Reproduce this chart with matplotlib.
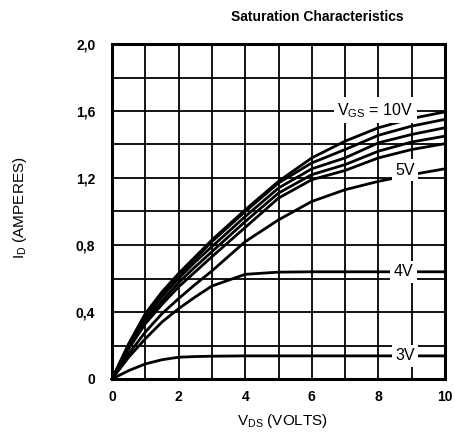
import matplotlib
matplotlib.use("Agg")
import matplotlib.pyplot as plt
from matplotlib.ticker import MultipleLocator, FixedLocator

plt.rcParams['font.family'] = ['Liberation Sans', 'DejaVu Sans']
plt.rcParams['mathtext.fontset'] = 'custom'
plt.rcParams['mathtext.rm'] = 'Liberation Sans'
plt.rcParams['mathtext.it'] = 'Liberation Sans'
plt.rcParams['mathtext.bf'] = 'Liberation Sans:bold'

# ---- data ----
vds = [0, 0.5, 1, 1.5, 2, 2.5, 3, 4, 5, 6, 7, 8, 9, 10]
id_10v = [0, 0.21, 0.39, 0.52, 0.63, 0.73, 0.83, 1.01, 1.18, 1.32, 1.42, 1.50, 1.555, 1.595]
id_9v  = [0, 0.205, 0.385, 0.51, 0.62, 0.72, 0.82, 1.00, 1.17, 1.29, 1.37, 1.455, 1.51, 1.55]
id_8v  = [0, 0.20, 0.37, 0.49, 0.60, 0.70, 0.79, 0.97, 1.14, 1.255, 1.32, 1.41, 1.46, 1.50]
id_7v  = [0, 0.19, 0.35, 0.465, 0.575, 0.67, 0.76, 0.94, 1.11, 1.22, 1.28, 1.36, 1.415, 1.45]
id_6v  = [0, 0.18, 0.33, 0.445, 0.55, 0.64, 0.73, 0.905, 1.08, 1.19, 1.245, 1.32, 1.37, 1.405]
id_5v  = [0, 0.15, 0.28, 0.39, 0.48, 0.565, 0.645, 0.82, 0.95, 1.06, 1.13, 1.18, 1.22, 1.255]
id_4v  = [0, 0.13, 0.24, 0.34, 0.42, 0.49, 0.555, 0.625, 0.638, 0.64, 0.64, 0.64, 0.64, 0.64]
id_3v  = [0, 0.05, 0.09, 0.115, 0.13, 0.134, 0.136, 0.138, 0.138, 0.138, 0.138, 0.138, 0.138, 0.138]

series = [id_10v, id_9v, id_8v, id_7v, id_6v, id_5v, id_4v, id_3v]

curve_labels = ["V$_{\\mathrm{GS}}$ = 10V", "5V", "4V", "3V"]
label_x = [7.9, 8.8, 8.75, 8.8]
label_y = [1.605, 1.245, 0.64, 0.138]

xtick_vals = [0, 2, 4, 6, 8, 10]
ytick_vals = [0, 0.4, 0.8, 1.2, 1.6, 2.0]
ytick_labels = ["0", "0,4", "0,8", "1,2", "1,6", "2,0"]

title = "Saturation Characteristics"
xlabel = "V$_{\\mathrm{DS}}$ (VOLTS)"
ylabel = "I$_{\\mathrm{D}}$ (AMPERES)"

# ---- figure ----
W, H = 456, 436
fig = plt.figure(figsize=(W / 100, H / 100), dpi=100)
ax = fig.add_axes([112 / W, 1 - 379 / H, 333 / W, 335 / H])
ax.set_xlim(0, 10)
ax.set_ylim(0, 2.0)

ax.xaxis.set_major_locator(FixedLocator(xtick_vals))
ax.xaxis.set_minor_locator(MultipleLocator(1))
ax.yaxis.set_major_locator(FixedLocator(ytick_vals))
ax.yaxis.set_minor_locator(MultipleLocator(0.2))
ax.set_xticklabels([str(v) for v in xtick_vals])
ax.set_yticklabels(ytick_labels)
ax.tick_params(which='both', length=0)
ax.tick_params(axis='x', pad=8, labelsize=10)
ax.tick_params(axis='y', pad=12, labelsize=10)
for lab in ax.get_xticklabels() + ax.get_yticklabels():
    lab.set_fontweight('bold')

ax.grid(True, which='both', color='black', linewidth=1.3, zorder=1)
ax.set_axisbelow(True)
for sp in ax.spines.values():
    sp.set_linewidth(2.2)
    sp.set_zorder(5)

for s in series:
    ax.plot(vds, s, color='black', linewidth=2.0, solid_joinstyle='round',
            solid_capstyle='round', zorder=3, clip_on=False)

for t, x, y in zip(curve_labels, label_x, label_y):
    ax.text(x, y, t, ha='center', va='center', fontsize=11.5, zorder=4,
            bbox=dict(facecolor='white', edgecolor='none', pad=2.5))

fig.text(317 / W, 1 - 17 / H, title, ha='center', va='center', fontsize=10,
         fontweight='bold', family=['Liberation Sans Narrow', 'Liberation Sans'])
fig.text(283 / W, 1 - 421 / H, xlabel, ha='center', va='center', fontsize=11)
fig.text(20 / W, 1 - 208 / H, ylabel, ha='center', va='center', fontsize=11, rotation=90)

fig.savefig("out.png", dpi=100)
